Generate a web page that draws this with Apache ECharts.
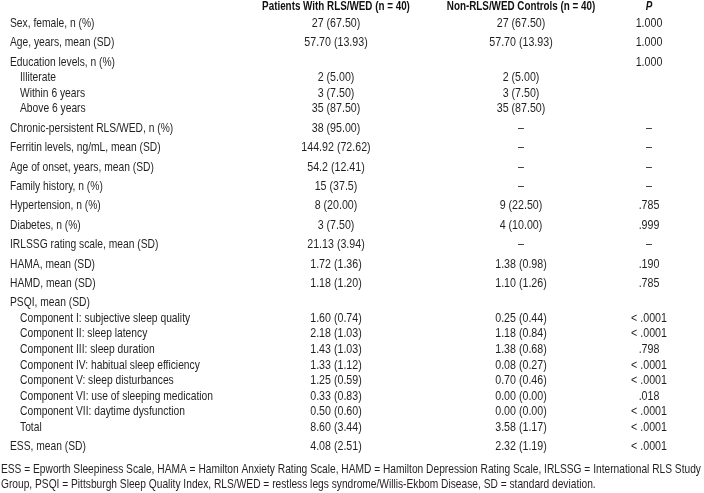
<!DOCTYPE html>
<html>
<head>
<meta charset="utf-8">
<style>html,body{margin:0;padding:0;background:#fff;}#c{width:704px;height:493px;}</style>
<script src="https://cdn.jsdelivr.net/npm/echarts@6/dist/echarts.min.js"></script>
</head>
<body>
<div id="c"></div>
<script>
const headers = ['Patients With RLS/WED (n = 40)', 'Non-RLS/WED Controls (n = 40)', 'P'];
const labels = ['Sex, female, n (%)','Age, years, mean (SD)','Education levels, n (%)','Illiterate','Within 6 years','Above 6 years','Chronic-persistent RLS/WED, n (%)','Ferritin levels, ng/mL, mean (SD)','Age of onset, years, mean (SD)','Family history, n (%)','Hypertension, n (%)','Diabetes, n (%)','IRLSSG rating scale, mean (SD)','HAMA, mean (SD)','HAMD, mean (SD)','PSQI, mean (SD)','Component I: subjective sleep quality','Component II: sleep latency','Component III: sleep duration','Component IV: habitual sleep efficiency','Component V: sleep disturbances','Component VI: use of sleeping medication','Component VII: daytime dysfunction','Total','ESS, mean (SD)'];
const levels = [0,0,0,1,1,1,0,0,0,0,0,0,0,0,0,0,1,1,1,1,1,1,1,1,0];
const patients = ['27 (67.50)','57.70 (13.93)','','2 (5.00)','3 (7.50)','35 (87.50)','38 (95.00)','144.92 (72.62)','54.2 (12.41)','15 (37.5)','8 (20.00)','3 (7.50)','21.13 (3.94)','1.72 (1.36)','1.18 (1.20)','','1.60 (0.74)','2.18 (1.03)','1.43 (1.03)','1.33 (1.12)','1.25 (0.59)','0.33 (0.83)','0.50 (0.60)','8.60 (3.44)','4.08 (2.51)'];
const controls = ['27 (67.50)','57.70 (13.93)','','2 (5.00)','3 (7.50)','35 (87.50)','–','–','–','–','9 (22.50)','4 (10.00)','–','1.38 (0.98)','1.10 (1.26)','','0.25 (0.44)','1.18 (0.84)','1.38 (0.68)','0.08 (0.27)','0.70 (0.46)','0.00 (0.00)','0.00 (0.00)','3.58 (1.17)','2.32 (1.19)'];
const pValues = ['1.000','1.000','1.000','','','','–','–','–','–','.785','.999','–','.190','.785','','< .0001','< .0001','.798','< .0001','< .0001','.018','< .0001','< .0001','< .0001'];
const footnoteLines = ['ESS = Epworth Sleepiness Scale, HAMA = Hamilton Anxiety Rating Scale, HAMD = Hamilton Depression Rating Scale, IRLSSG = International RLS Study','Group, PSQI = Pittsburgh Sleep Quality Index, RLS/WED = restless legs syndrome/Willis-Ekbom Disease, SD = standard deviation.'];

const FONT = "'Liberation Sans', Arial, sans-serif";
const TXT = '#231f20';
const FS = 13;

// vertical row positions in row units: sub rows sit closer together
const pos = [];
levels.forEach((l, i) => pos.push(i === 0 ? 0 : pos[i - 1] + (l ? 0.8 : 1)));
const posMax = pos[pos.length - 1];

const TOP = 23.5, UNIT = 19.4, HEADER_GAP = 17;
const H = posMax * UNIT;

const cols = [
  {left: 10, width: 10},
  {left: 256, width: 160},
  {left: 441, width: 160},
  {left: 609, width: 80}
];
const grid = cols.map(c => ({left: c.left, width: c.width, top: TOP, height: H}));
const xAxis = cols.map((c, i) => ({gridIndex: i, type: 'value', min: i === 0 ? 0 : -1, max: 1, show: false}));
const yAxis = cols.map((c, i) => ({gridIndex: i, type: 'value', inverse: true, min: 0, max: posMax, show: false}));

// text marks drawn through each column's axes; scaleX condenses the face like a narrow font
function textSeries(axisIdx, items, opts) {
  return {
    type: 'custom', xAxisIndex: axisIdx, yAxisIndex: axisIdx, silent: true,
    data: items.map(it => [it.x, it.y]),
    renderItem: (params, api) => {
      const it = items[params.dataIndex];
      const pt = api.coord([api.value(0), api.value(1)]);
      const y = opts.header ? params.coordSys.y - HEADER_GAP : pt[1];
      return {
        type: 'text', x: pt[0], y: y, scaleX: opts.sx,
        style: {
          text: it.text, fill: opts.color || TXT,
          fontFamily: FONT, fontSize: opts.fontSize || FS,
          fontWeight: opts.fontWeight || 'normal', fontStyle: opts.fontStyle || 'normal',
          align: opts.align, verticalAlign: 'middle'
        }
      };
    }
  };
}

const colData = [patients, controls, pValues];
const series = [
  textSeries(0, labels.map((t, i) => ({x: levels[i], y: pos[i], text: t})), {align: 'left', sx: 0.79})
];
colData.forEach((arr, k) => {
  series.push(textSeries(k + 1,
    arr.map((t, i) => ({x: 0, y: pos[i], text: t})).filter(d => d.text !== ''),
    {align: 'center', sx: 0.82}));
  series.push(textSeries(k + 1, [{x: 0, y: 0, text: headers[k]}],
    {align: 'center', header: true, fontWeight: 'bold', fontSize: 12, color: '#111', sx: 0.82,
     fontStyle: k === 2 ? 'italic' : 'normal'}));
});

const chart = echarts.init(document.getElementById('c'), null, {renderer: 'canvas'});
chart.setOption({
  animation: false,
  backgroundColor: '#fff',
  graphic: [{
    type: 'text', left: 1, top: 462, scaleX: 0.785, silent: true,
    style: {text: footnoteLines.join('\n'), fill: TXT, fontFamily: FONT, fontSize: FS, lineHeight: 15}
  }],
  grid, xAxis, yAxis, series
});
</script>
</body>
</html>
